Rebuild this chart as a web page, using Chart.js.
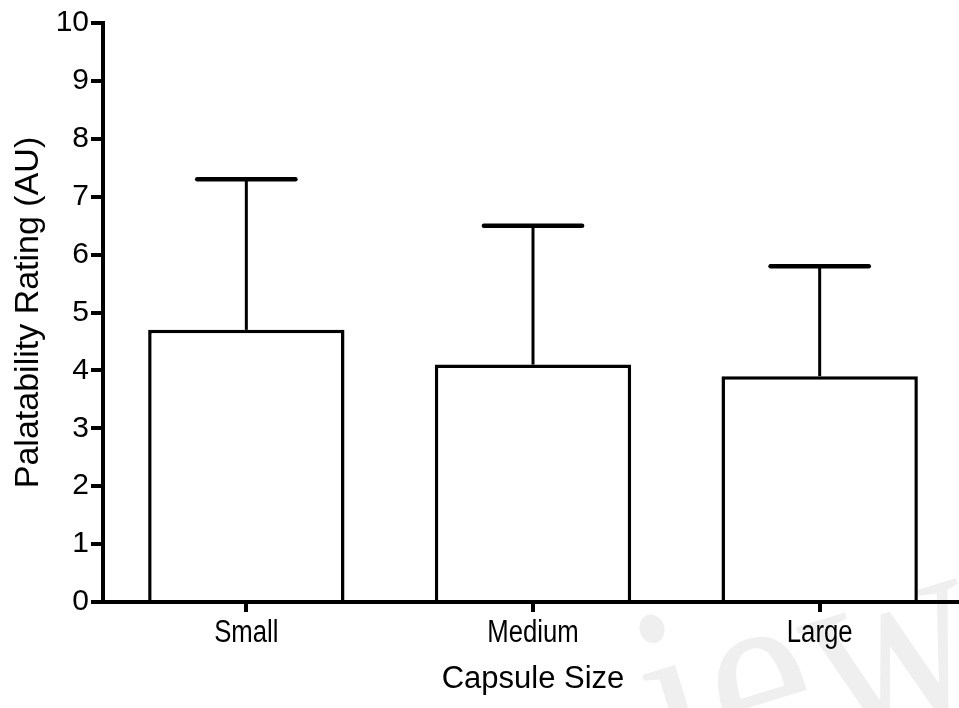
<!DOCTYPE html>
<html>
<head>
<meta charset="utf-8">
<title>Palatability Rating by Capsule Size</title>
<script src="https://cdn.jsdelivr.net/npm/chart.js@4/dist/chart.umd.min.js"></script>
<style>
  html, body { margin: 0; padding: 0; background: #ffffff; overflow: hidden; }
  #wrap { position: relative; width: 964px; height: 708px; }
</style>
</head>
<body>
<div id="wrap"><canvas id="chart"></canvas></div>
<script>
// Capsule size groups and palatability ratings (mean and SD, arbitrary units)
const categories = ['Small', 'Medium', 'Large'];
const meanRating = [4.7, 4.1, 3.9];
const sdRating = [2.6, 2.4, 1.9];
const yTicks = [0, 1, 2, 3, 4, 5, 6, 7, 8, 9, 10];

const SANS = '"Liberation Sans", Arial, sans-serif';

// Faint background watermark lettering in the lower right corner
const watermark = {
  id: 'watermark',
  beforeDraw(chart) {
    const ctx = chart.ctx;
    ctx.save();
    ctx.translate(672, 798);
    ctx.rotate(-0.3);
    ctx.scale(0.85, 1);
    ctx.font = '275px "Liberation Serif", "Times New Roman", serif';
    ctx.fillStyle = '#efefef';
    ctx.textBaseline = 'alphabetic';
    ctx.fillText('iew', 0, 0);
    ctx.restore();
  }
};

// Category labels in a condensed face under each x tick
const narrowLabels = {
  id: 'narrowLabels',
  afterDraw(chart) {
    const x = chart.scales.x;
    const ctx = chart.ctx;
    ctx.save();
    ctx.font = '31px ' + SANS;
    ctx.fillStyle = '#000';
    ctx.textAlign = 'center';
    ctx.textBaseline = 'alphabetic';
    categories.forEach((label, i) => {
      const px = x.getPixelForValue(i);
      ctx.save();
      ctx.translate(px, x.top + 40);
      ctx.scale(0.83, 1);
      ctx.fillText(label, 0, 0);
      ctx.restore();
    });
    ctx.restore();
  }
};

// Upper-only SD whiskers drawn above each bar
const errorBars = {
  id: 'errorBars',
  afterDatasetsDraw(chart) {
    const meta = chart.getDatasetMeta(0);
    const y = chart.scales.y;
    const ctx = chart.ctx;
    ctx.save();
    ctx.strokeStyle = '#000';
    meta.data.forEach((bar, i) => {
      const top = y.getPixelForValue(meanRating[i] + sdRating[i]);
      const half = bar.width / 4;
      ctx.lineCap = 'butt';
      ctx.lineWidth = 3;
      ctx.beginPath();
      ctx.moveTo(bar.x, bar.y);
      ctx.lineTo(bar.x, top);
      ctx.stroke();
      ctx.lineCap = 'round';
      ctx.lineWidth = 4.5;
      ctx.beginPath();
      ctx.moveTo(bar.x - half, top);
      ctx.lineTo(bar.x + half, top);
      ctx.stroke();
    });
    ctx.restore();
  }
};

new Chart(document.getElementById('chart'), {
  type: 'bar',
  data: {
    labels: categories,
    datasets: [{
      data: meanRating,
      backgroundColor: '#ffffff',
      borderColor: '#000000',
      borderWidth: 3.5,
      barPercentage: 0.685,
      categoryPercentage: 1.0
    }]
  },
  options: {
    responsive: true,
    maintainAspectRatio: false,
    animation: false,
    layout: { padding: { top: 23, right: 1, bottom: 0, left: 0 } },
    plugins: {
      legend: { display: false },
      tooltip: { enabled: false }
    },
    scales: {
      x: {
        offset: true,
        grid: {
          offset: false,
          drawOnChartArea: false,
          drawTicks: true,
          tickLength: 10,
          lineWidth: 4,
          color: '#000'
        },
        border: { display: true, color: '#000', width: 4 },
        ticks: { display: false },
        title: {
          display: true,
          text: 'Capsule Size',
          color: '#000',
          font: { family: SANS, size: 31 },
          padding: { top: 4, bottom: 10 }
        },
        afterFit(scale) { scale.height = 106; }
      },
      y: {
        min: 0,
        max: 10,
        afterBuildTicks(scale) { scale.ticks = yTicks.map(v => ({ value: v })); },
        grid: {
          drawOnChartArea: false,
          drawTicks: true,
          tickLength: 12,
          lineWidth: 4,
          color: '#000'
        },
        border: { display: true, color: '#000', width: 4 },
        ticks: {
          color: '#000',
          padding: 2,
          font: { family: SANS, size: 30 }
        },
        title: {
          display: true,
          text: 'Palatability Rating (AU)',
          color: '#000',
          font: { family: SANS, size: 34 },
          padding: { top: 8, bottom: 0 }
        },
        afterFit(scale) { scale.width = 103; }
      }
    }
  },
  plugins: [watermark, errorBars, narrowLabels]
});
</script>
</body>
</html>
